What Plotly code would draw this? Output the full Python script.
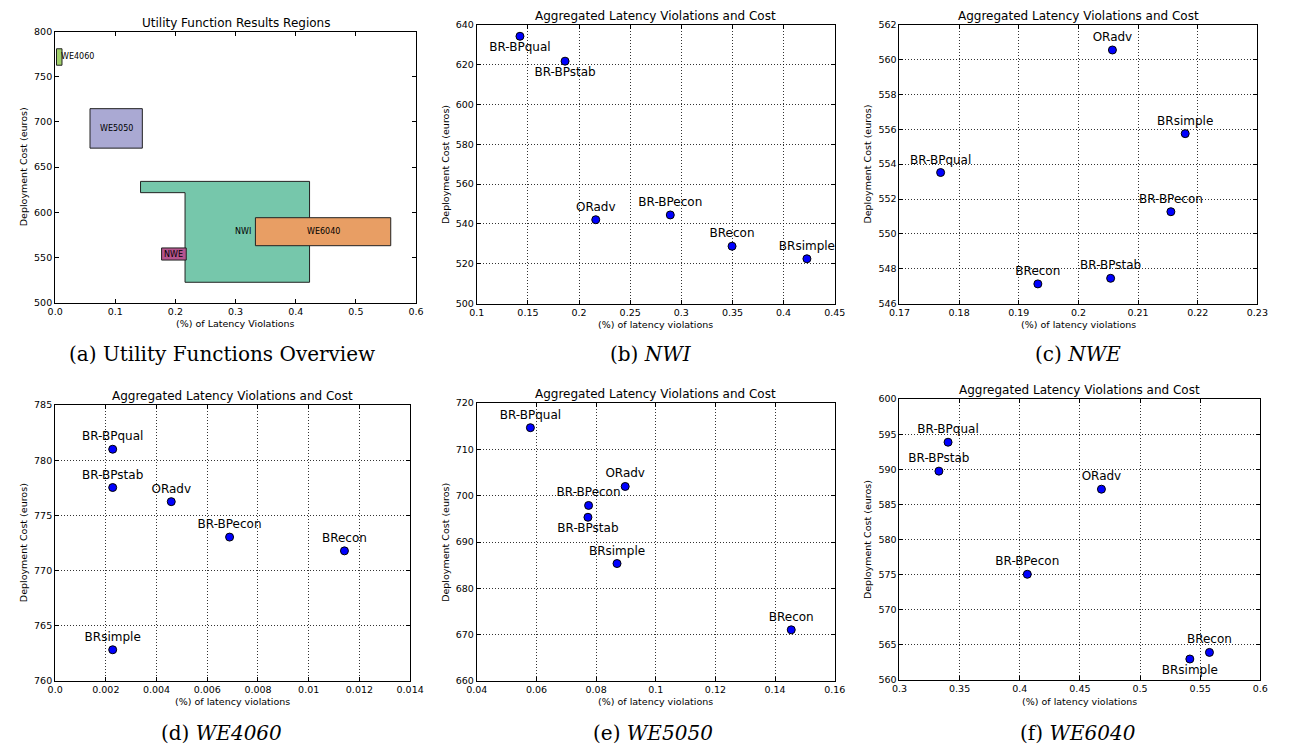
import plotly.graph_objects as go

W, H = 1291, 753

# ---------------- data ----------------
# (a) Utility function result regions (polygon vertices)
region_names = ["NWI", "WE6040", "NWE", "WE5050", "WE4060"]
region_x = [
    [0.142, 0.423, 0.423, 0.216, 0.216, 0.142, 0.142],
    [0.333, 0.558, 0.558, 0.333, 0.333],
    [0.177, 0.218, 0.218, 0.177, 0.177],
    [0.058, 0.145, 0.145, 0.058, 0.058],
    [0.0023, 0.0114, 0.0114, 0.0023, 0.0023],
]
region_y = [
    [634.2, 634.2, 522.5, 522.5, 621.7, 621.7, 634.2],
    [594.0, 594.0, 563.0, 563.0, 594.0],
    [560.5, 560.5, 547.1, 547.1, 560.5],
    [714.7, 714.7, 671.0, 671.0, 714.7],
    [781.0, 781.0, 762.8, 762.8, 781.0],
]
region_colors = ["#76c7ab", "#e89e64", "#b5558e", "#aaa9d3", "#a1cf6a"]
region_label_x = [0.313, 0.4455, 0.1975, 0.1015, 0.0068]
region_label_y = [578.5, 578.5, 553.8, 692.9, 772.0]

# (b) NWI
nwi_methods = ["BR-BPqual", "BR-BPstab", "ORadv", "BR-BPecon", "BRecon", "BRsimple"]
nwi_viol = [0.1422, 0.1863, 0.2163, 0.2892, 0.3496, 0.4228]
nwi_cost = [634.2, 621.7, 542.1, 544.5, 528.8, 522.5]

# (c) NWE
nwe_methods = ["ORadv", "BRsimple", "BR-BPqual", "BR-BPecon", "BR-BPstab", "BRecon"]
nwe_viol = [0.2057, 0.2179, 0.1769, 0.2155, 0.2054, 0.1932]
nwe_cost = [560.55, 555.75, 553.52, 551.27, 547.45, 547.13]

# (d) WE4060
we4060_methods = ["BR-BPqual", "BR-BPstab", "ORadv", "BR-BPecon", "BRecon", "BRsimple"]
we4060_viol = [0.00227, 0.00227, 0.00458, 0.00688, 0.01141, 0.00227]
we4060_cost = [781.0, 777.53, 776.25, 773.04, 771.79, 762.83]

# (e) WE5050
we5050_methods = ["BR-BPqual", "ORadv", "BR-BPecon", "BR-BPstab", "BRsimple", "BRecon"]
we5050_viol = [0.05797, 0.08975, 0.07748, 0.07726, 0.08701, 0.14542]
we5050_cost = [714.69, 702.0, 697.9, 695.35, 685.36, 671.05]

# (f) WE6040
we6040_methods = ["BR-BPqual", "BR-BPstab", "ORadv", "BR-BPecon", "BRecon", "BRsimple"]
we6040_viol = [0.3404, 0.3328, 0.4679, 0.4063, 0.5577, 0.5414]
we6040_cost = [593.87, 589.75, 587.18, 575.06, 563.93, 562.99]

# tick labels
a_xticks = ["0.0", "0.1", "0.2", "0.3", "0.4", "0.5", "0.6"]
a_yticks = [500, 550, 600, 650, 700, 750, 800]
b_xticks = ["0.1", "0.15", "0.2", "0.25", "0.3", "0.35", "0.4", "0.45"]
b_yticks = [500, 520, 540, 560, 580, 600, 620, 640]
c_xticks = ["0.17", "0.18", "0.19", "0.2", "0.21", "0.22", "0.23"]
c_yticks = [546, 548, 550, 552, 554, 556, 558, 560, 562]
d_xticks = ["0.0", "0.002", "0.004", "0.006", "0.008", "0.01", "0.012", "0.014"]
d_yticks = [760, 765, 770, 775, 780, 785]
e_xticks = ["0.04", "0.06", "0.08", "0.1", "0.12", "0.14", "0.16"]
e_yticks = [660, 670, 680, 690, 700, 710, 720]
f_xticks = ["0.3", "0.35", "0.4", "0.45", "0.5", "0.55", "0.6"]
f_yticks = [560, 565, 570, 575, 580, 585, 590, 595, 600]

# ---------------- styles / layout ----------------
SANS = "DejaVu Sans"
SERIF = "DejaVu Serif"

def xd(l, r):
    return [l / W, r / W]

def yd(t, b):
    return [1 - b / H, 1 - t / H]

panels = [
    dict(dom=(xd(45, 413), yd(26, 301)), xt=a_xticks, yt=a_yticks, grid=False,
         title="Utility Function Results Regions", xlab="(%) of Latency Violations",
         cap="(a) Utility Functions Overview", cap_xy=(215, 353)),
    dict(dom=(xd(475, 840), yd(19, 302)), xt=b_xticks, yt=b_yticks, grid=True,
         title="Aggregated Latency Violations and Cost", xlab="(%) of latency violations",
         cap="(b) <i>NWI</i>", cap_xy=(653, 353)),
    dict(dom=(xd(906, 1271), yd(19, 302)), xt=c_xticks, yt=c_yticks, grid=True,
         title="Aggregated Latency Violations and Cost", xlab="(%) of latency violations",
         cap="(c) <i>NWE</i>", cap_xy=(1088, 353)),
    dict(dom=(xd(45, 407), yd(405, 685)), xt=d_xticks, yt=d_yticks, grid=True,
         title="Aggregated Latency Violations and Cost", xlab="(%) of latency violations",
         cap="(d) <i>WE4060</i>", cap_xy=(215, 738)),
    dict(dom=(xd(475, 840), yd(403, 685)), xt=e_xticks, yt=e_yticks, grid=True,
         title="Aggregated Latency Violations and Cost", xlab="(%) of latency violations",
         cap="(e) <i>WE5050</i>", cap_xy=(655, 738)),
    dict(dom=(xd(906, 1274), yd(399, 684)), xt=f_xticks, yt=f_yticks, grid=True,
         title="Aggregated Latency Violations and Cost", xlab="(%) of latency violations",
         cap="(f) <i>WE6040</i>", cap_xy=(1088, 738)),
]

scatter_sets = [
    (nwi_methods, nwi_viol, nwi_cost,
     ["bottom center", "bottom center", "top center", "top center", "top center", "top center"]),
    (nwe_methods, nwe_viol, nwe_cost, ["top center"] * 6),
    (we4060_methods, we4060_viol, we4060_cost, ["top center"] * 6),
    (we5050_methods, we5050_viol, we5050_cost,
     ["top center", "top center", "top center", "bottom center", "top center", "top center"]),
    (we6040_methods, we6040_viol, we6040_cost,
     ["top center", "top center", "top center", "top center", "top center", "bottom center"]),
]

fig = go.Figure()

# (a) regions
for name, xs, ys, col in zip(region_names, region_x, region_y, region_colors):
    fig.add_trace(go.Scatter(
        x=xs, y=ys, mode="lines", fill="toself", fillcolor=col,
        line=dict(color="#222222", width=1), hoverinfo="skip",
        showlegend=False, xaxis="x", yaxis="y", name=name))

annotations = []
for name, lx, ly in zip(region_names, region_label_x, region_label_y):
    annotations.append(dict(
        x=lx, y=ly, xref="x", yref="y", text=name, showarrow=False,
        xanchor="left" if name == "WE4060" else "center", yanchor="middle",
        font=dict(family=SANS, size=8, color="black")))

# (b)-(f) scatter
for i, (names, xs, ys, pos) in enumerate(scatter_sets):
    k = i + 2
    fig.add_trace(go.Scatter(
        x=xs, y=ys, mode="markers+text", text=names, textposition=pos,
        textfont=dict(family=SANS, size=12, color="black"),
        marker=dict(size=8, color="#0000ff", line=dict(color="black", width=1)),
        cliponaxis=False, showlegend=False, hoverinfo="skip",
        xaxis=f"x{k}", yaxis=f"y{k}"))

layout = dict(
    width=W, height=H, margin=dict(l=0, r=0, t=0, b=0),
    paper_bgcolor="white", plot_bgcolor="white", showlegend=False,
    font=dict(family=SANS, size=9, color="black"),
)

for i, p in enumerate(panels):
    k = i + 1
    sx = "" if k == 1 else str(k)
    xvals = [float(v) for v in p["xt"]]
    yvals = p["yt"]
    common = dict(showline=True, linecolor="black", linewidth=1, mirror="ticks",
                  ticks="inside", ticklen=4, tickcolor="black", tickwidth=1,
                  zeroline=False, tickfont=dict(family=SANS, size=9.5, color="black"),
                  showgrid=p["grid"], gridcolor="rgba(0,0,0,0.8)", gridwidth=1,
                  griddash="1px,2px")
    layout["xaxis" + sx] = dict(domain=p["dom"][0], anchor="y" + sx,
                                range=[xvals[0], xvals[-1]], tickmode="array",
                                tickvals=xvals, ticktext=p["xt"], **common)
    layout["yaxis" + sx] = dict(domain=p["dom"][1], anchor="x" + sx,
                                range=[yvals[0], yvals[-1]], tickmode="array",
                                tickvals=yvals, ticktext=[str(v) for v in yvals], **common)
    xr = "x" + sx + " domain"
    yr = "y" + sx + " domain"
    annotations.append(dict(x=0.5, y=1, xref=xr, yref=yr, text=p["title"], showarrow=False,
                            xanchor="center", yanchor="bottom", yshift=0,
                            font=dict(family=SANS, size=12, color="black")))
    annotations.append(dict(x=0.5, y=0, xref=xr, yref=yr, text=p["xlab"], showarrow=False,
                            xanchor="center", yanchor="middle", yshift=-21,
                            font=dict(family=SANS, size=9.5, color="black")))
    annotations.append(dict(x=0, y=0.5, xref=xr, yref=yr, text="Deployment Cost (euros)",
                            showarrow=False, textangle=-90, xanchor="center",
                            yanchor="middle", xshift=-32,
                            font=dict(family=SANS, size=9.5, color="black")))
    cx, cy = p["cap_xy"]
    annotations.append(dict(x=cx / W, y=1 - cy / H, xref="paper", yref="paper",
                            text=p["cap"], showarrow=False, xanchor="center",
                            yanchor="middle",
                            font=dict(family=SERIF, size=20, color="black")))

layout["annotations"] = annotations
fig.update_layout(**layout)
fig.write_html("out.html")
